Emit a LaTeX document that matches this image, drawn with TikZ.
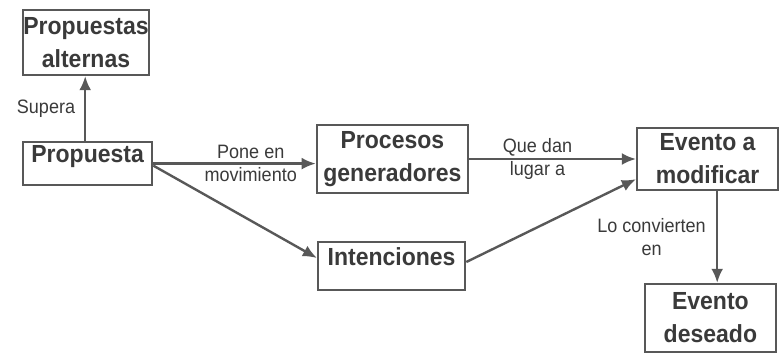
\documentclass[tikz,border=0pt]{standalone}
\usepackage{fontspec}
\setmainfont{Liberation Sans}
\newfontfamily\narrowsans[FakeStretch=0.93]{Liberation Sans}
\usepackage{tikz}
\usetikzlibrary{shapes,arrows,arrows.meta,positioning,calc}
\definecolor{linegray}{RGB}{88,88,88}
\definecolor{inkgray}{RGB}{58,58,58}

\begin{document}
\begin{tikzpicture}[
        box/.style={rectangle, draw=linegray, line width=1.7pt, inner sep=0pt, align=center, text=inkgray, font=\narrowsans\fontsize{17.6}{23.5}\selectfont\bfseries},
        lbl/.style={align=center, text=inkgray, font=\narrowsans\fontsize{13.8}{16.5}\selectfont},
        arrow/.style={-{Latex[length=10pt,width=8.5pt]}, draw=linegray, line width=1.7pt}]

        \useasboundingbox (0,0) rectangle (19.5,-8.825);

        \node[box, minimum width=3.15cm, minimum height=1.625cm] (alternas) at (2.15,-1.06) {Propuestas\\alternas};
        \node[box, minimum width=3.225cm, text height=0.5cm, text depth=0.575cm] (propuesta) at (2.19,-4.09) {Propuesta};
        \node[box, minimum width=3.775cm, minimum height=1.7cm] (procesos) at (9.81,-3.975) {Procesos\\generadores};
        \node[box, minimum width=3.675cm, text height=0.575cm, text depth=0.625cm] (intenciones) at (9.79,-6.65) {Intenciones};
        \node[box, minimum width=3.525cm, minimum height=1.55cm] (modificar) at (17.69,-3.975) {Evento a\\modificar};
        \node[box, minimum width=3.275cm, minimum height=1.7cm] (deseado) at (17.76,-7.95) {Evento\\deseado};

        \draw[arrow] ([xshift=-0.06cm]propuesta.north) -- node[lbl, left=3pt]{Supera} ([xshift=-0.06cm]propuesta.north |- alternas.south);
        \draw[arrow] (propuesta.east) -- node[lbl, pos=0.6]{Pone en\\movimiento} (propuesta.east -| procesos.west);
        \draw[arrow] (procesos.east) -- node[lbl, pos=0.41]{Que dan\\lugar a} (procesos.east -| modificar.west);
        \draw[arrow] ([yshift=-0.05cm]propuesta.east) -- ([yshift=0.2cm]intenciones.west);
        \draw[arrow] ([yshift=0.1cm]intenciones.east) -- ([yshift=0.3cm]modificar.south west);
        \draw[arrow] ([xshift=0.24cm]modificar.south) -- node[lbl, left=4pt]{Lo convierten\\en} ([xshift=0.24cm]modificar.south |- deseado.north);

    \end{tikzpicture}
\end{document}
